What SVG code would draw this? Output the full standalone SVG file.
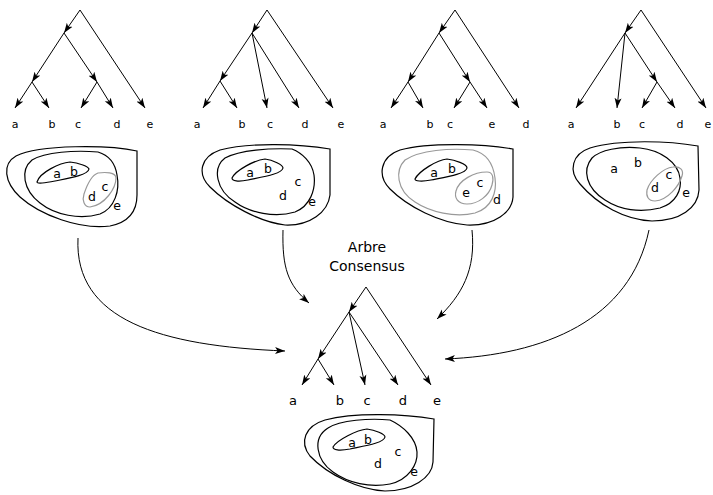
<svg xmlns="http://www.w3.org/2000/svg" width="713" height="495" viewBox="0 0 713 495">
<defs>
<marker id="ah" markerUnits="userSpaceOnUse" markerWidth="10" markerHeight="8" viewBox="0 0 10 8" refX="10" refY="4" orient="auto">
<path d="M0,0.5 L10,4 L0,7.5 L2.5,4 Z" fill="#000"/>
</marker>
<style>
.e{stroke:#000;stroke-width:1;fill:none;marker-end:url(#ah)}
.k{stroke:#000;stroke-width:1.2;fill:none}
.g{stroke:#999;stroke-width:1.2;fill:none}
.c{stroke:#000;stroke-width:1;fill:none;marker-end:url(#ah)}
text{font-family:"DejaVu Sans","Liberation Sans",sans-serif;fill:#000;text-anchor:middle}
.l{font-size:11px}
.lc{font-size:13px}
.b{font-size:12.5px}
.t{font-size:14px}
</style>
</defs>
<rect width="713" height="495" fill="#fff"/>

<g id="tree1">
<line class="e" x1="80" y1="10" x2="64" y2="33"/>
<line class="e" x1="80" y1="10" x2="145" y2="108"/>
<line class="e" x1="64" y1="33" x2="32" y2="82"/>
<line class="e" x1="64" y1="33" x2="97" y2="82"/>
<line class="e" x1="32" y1="82" x2="15" y2="108"/>
<line class="e" x1="32" y1="82" x2="49" y2="108"/>
<line class="e" x1="97" y1="82" x2="81" y2="108"/>
<line class="e" x1="97" y1="82" x2="113" y2="108"/>
<text class="l" x="15" y="128">a</text><text class="l" x="52" y="128">b</text><text class="l" x="78" y="128">c</text><text class="l" x="117" y="128">d</text><text class="l" x="150" y="128">e</text>
</g>

<g id="tree2">
<line class="e" x1="267" y1="10" x2="252" y2="33"/>
<line class="e" x1="267" y1="10" x2="333" y2="108"/>
<line class="e" x1="252" y1="33" x2="220" y2="81"/>
<line class="e" x1="252" y1="33" x2="267" y2="108"/>
<line class="e" x1="252" y1="33" x2="299" y2="108"/>
<line class="e" x1="220" y1="81" x2="203" y2="108"/>
<line class="e" x1="220" y1="81" x2="237" y2="108"/>
<text class="l" x="197" y="128">a</text><text class="l" x="242" y="128">b</text><text class="l" x="270" y="128">c</text><text class="l" x="305" y="128">d</text><text class="l" x="341" y="128">e</text>
</g>

<g id="tree3">
<line class="e" x1="455" y1="10" x2="439" y2="33"/>
<line class="e" x1="455" y1="10" x2="519" y2="108"/>
<line class="e" x1="439" y1="33" x2="408" y2="82"/>
<line class="e" x1="439" y1="33" x2="470" y2="82"/>
<line class="e" x1="408" y1="82" x2="391" y2="108"/>
<line class="e" x1="408" y1="82" x2="423" y2="108"/>
<line class="e" x1="470" y1="82" x2="454" y2="108"/>
<line class="e" x1="470" y1="82" x2="487" y2="108"/>
<text class="l" x="383" y="128">a</text><text class="l" x="430" y="128">b</text><text class="l" x="450" y="128">c</text><text class="l" x="492" y="128">e</text><text class="l" x="526" y="128">d</text>
</g>

<g id="tree4">
<line class="e" x1="641" y1="10" x2="625" y2="33"/>
<line class="e" x1="641" y1="10" x2="706" y2="108"/>
<line class="e" x1="625" y1="33" x2="576" y2="108"/>
<line class="e" x1="625" y1="33" x2="617" y2="108"/>
<line class="e" x1="625" y1="33" x2="657" y2="82"/>
<line class="e" x1="657" y1="82" x2="642" y2="108"/>
<line class="e" x1="657" y1="82" x2="675" y2="108"/>
<text class="l" x="571" y="128">a</text><text class="l" x="617" y="128">b</text><text class="l" x="642" y="128">c</text><text class="l" x="680" y="128">d</text><text class="l" x="708" y="128">e</text>
</g>

<g id="blob1">
<path class="k" d="M137,151 C110,145 40,144 16,156 C2,164 4,182 20,197 C40,215 80,230 110,226 C130,222 137,210 137,195 Z"/>
<path class="k" d="M98,152 C75,150 45,152 32,160 C20,170 23,190 40,203 C55,215 80,220 100,214 C115,208 120,190 117,175 C115,162 108,155 98,152 Z"/>
<path class="k" d="M37,182 C40,172 60,163 70,162 C78,163 88,166 89,169 C88,175 70,178 55,181 C45,183 37,184 37,182 Z"/>
<path class="g" d="M98,173 C105,172 116,172 116,178 C116,188 105,205 90,207 C84,207 82,200 84,194 C87,185 92,175 98,173 Z"/>
<text class="b" x="57" y="178">a</text><text class="b" x="74" y="176">b</text><text class="b" x="105" y="191">c</text><text class="b" x="92" y="201">d</text><text class="b" x="117" y="210">e</text>
</g>

<g id="blob2">
<path class="k" d="M330,149 C300,144 250,142 220,150 C200,157 197,174 210,187 C228,205 260,222 285,225 C310,226 328,212 330,195 Z"/>
<path class="k" d="M292,149 C270,148 240,150 225,158 C212,168 216,190 235,202 C250,213 275,218 295,212 C310,206 316,190 314,175 C312,162 302,153 292,149 Z"/>
<path class="k" d="M232,178 C236,170 255,160 265,159 C273,160 283,165 283,168 C282,174 262,177 248,180 C238,182 232,181 232,178 Z"/>
<text class="b" x="250" y="177">a</text><text class="b" x="268" y="173">b</text><text class="b" x="298" y="186">c</text><text class="b" x="283" y="200">d</text><text class="b" x="312" y="206">e</text>
</g>

<g id="blob3">
<path class="k" d="M513,149 C485,144 430,142 400,150 C380,157 377,176 390,189 C408,207 440,223 467,225 C495,226 512,212 513,197 Z"/>
<path class="g" d="M473,150 C450,148 420,150 405,160 C395,170 396,190 415,202 C430,212 455,218 475,213 C492,208 497,192 495,178 C493,162 485,153 473,150 Z"/>
<path class="k" d="M415,179 C419,171 437,160 447,159 C455,160 467,164 467,168 C466,174 446,177 431,180 C421,182 415,181 415,179 Z"/>
<path class="g" d="M487,172 C493,172 494,178 492,185 C489,196 478,204 467,204 C458,204 454,198 456,191 C459,180 474,172 487,172 Z"/>
<text class="b" x="434" y="177">a</text><text class="b" x="452" y="173">b</text><text class="b" x="480" y="187">c</text><text class="b" x="466" y="197">e</text><text class="b" x="497" y="204">d</text>
</g>

<g id="blob4">
<path class="k" d="M698,146 C670,141 620,139 590,148 C572,154 568,171 580,184 C598,205 625,220 652,221 C680,221 698,208 699,190 Z"/>
<path class="k" d="M640,148 C620,146 600,150 592,158 C582,170 586,188 605,200 C620,210 640,213 660,208 C676,203 682,190 680,178 C678,162 660,150 640,148 Z"/>
<path class="g" d="M673,167 C680,166 684,170 682,176 C679,186 668,200 655,201 C648,201 646,196 647,190 C650,180 663,168 673,167 Z"/>
<text class="b" x="614" y="173">a</text><text class="b" x="638" y="167">b</text><text class="b" x="669" y="179">c</text><text class="b" x="655" y="192">d</text><text class="b" x="686" y="197">e</text>
</g>

<g id="consensus">
<text class="t" x="367" y="252">Arbre</text>
<text class="t" x="367" y="271">Consensus</text>
<line class="e" x1="366" y1="287" x2="349" y2="312"/>
<line class="e" x1="366" y1="287" x2="431" y2="385"/>
<line class="e" x1="349" y1="312" x2="318" y2="359"/>
<line class="e" x1="349" y1="312" x2="365" y2="385"/>
<line class="e" x1="349" y1="312" x2="398" y2="385"/>
<line class="e" x1="318" y1="359" x2="302" y2="385"/>
<line class="e" x1="318" y1="359" x2="334" y2="385"/>
<text class="lc" x="293" y="405">a</text><text class="lc" x="340" y="405">b</text><text class="lc" x="367" y="405">c</text><text class="lc" x="403" y="405">d</text><text class="lc" x="437" y="405">e</text>
</g>

<g id="blob5">
<path class="k" d="M434,419 C405,414 355,412 325,420 C305,426 299,442 310,456 C328,475 360,490 385,491 C412,491 432,478 433,462 Z"/>
<path class="k" d="M390,420 C370,418 340,420 328,428 C312,438 316,460 333,472 C348,483 370,488 390,484 C408,480 418,465 417,452 C416,438 403,426 390,420 Z"/>
<path class="k" d="M333,447 C337,440 357,430 367,429 C375,430 385,434 385,437 C384,443 364,446 350,449 C339,451 333,450 333,447 Z"/>
<text class="b" x="352" y="447">a</text><text class="b" x="368" y="444">b</text><text class="b" x="398" y="456">c</text><text class="b" x="378" y="468">d</text><text class="b" x="414" y="476">e</text>
</g>

<g id="connectors">
<path class="c" d="M78,238 C74,320 160,346 285,351"/>
<path class="c" d="M283,230 C282,268 288,285 309,303"/>
<path class="c" d="M472,230 C476,270 462,295 437,319"/>
<path class="c" d="M649,230 C630,320 545,355 445,359"/>
</g>
</svg>
